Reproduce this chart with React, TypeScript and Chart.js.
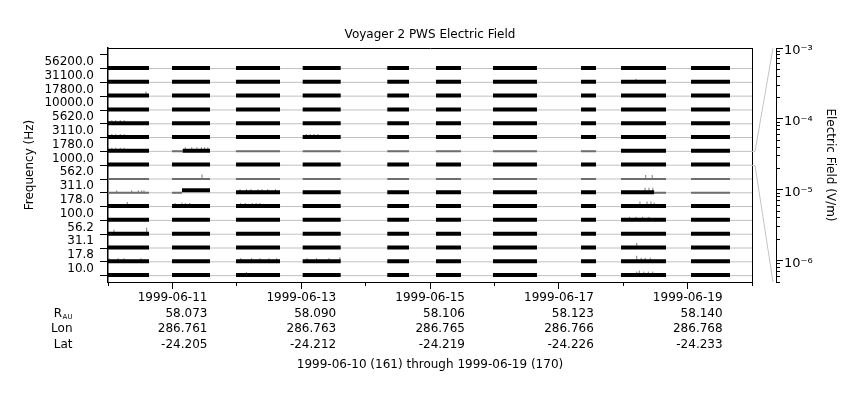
import React, { useEffect, useRef } from 'react';
import { Chart, registerables } from 'chart.js';
Chart.register(...registerables);

// ---------------- data ----------------
const chartTitle = 'Voyager 2 PWS Electric Field';
const freqLabels = ['10.0', '17.8', '31.1', '56.2', '100.0', '178.0', '311.0', '562.0', '1000.0', '1780.0', '3110.0', '5620.0', '10000.0', '17800.0', '31100.0', '56200.0'];
const refChannel = 8; // 1000 Hz channel linked to the colour-bar axis

// data coverage intervals, days since 1999-06-10 00:00
const segStart = [0.0, 0.994, 1.988, 3.023, 4.337, 5.093, 5.978, 7.345, 7.966, 9.053];
const segEnd = [0.637, 1.584, 2.671, 3.613, 4.674, 5.481, 6.661, 7.578, 8.665, 9.658];

// activity state per channel (row 0 = 10 Hz) and interval: 0 quiet, 1 noise, 2 enhanced
const channelState: number[][] = [
  [1, 1, 1, 1, 1, 1, 1, 1, 1, 1],
  [1, 1, 1, 1, 1, 1, 1, 1, 1, 1],
  [1, 1, 1, 1, 1, 1, 1, 1, 1, 1],
  [1, 1, 1, 1, 1, 1, 1, 1, 1, 1],
  [1, 1, 1, 1, 1, 1, 1, 1, 1, 1],
  [1, 1, 1, 1, 1, 1, 1, 1, 1, 1],
  [0, 0, 1, 1, 1, 1, 1, 1, 1, 0],
  [0, 0, 0, 0, 0, 0, 0, 0, 0, 0],
  [1, 1, 1, 1, 1, 1, 1, 1, 1, 1],
  [1, 0, 0, 0, 0, 0, 0, 0, 1, 1],
  [1, 1, 1, 1, 1, 1, 1, 1, 1, 1],
  [1, 1, 1, 1, 1, 1, 1, 1, 1, 1],
  [1, 1, 1, 1, 1, 1, 1, 1, 1, 1],
  [1, 1, 1, 1, 1, 1, 1, 1, 1, 1],
  [1, 1, 1, 1, 1, 1, 1, 1, 1, 1],
  [1, 1, 1, 1, 1, 1, 1, 1, 1, 1],
];
// partial-interval state changes: [channel, startDay, endDay, state]
const stateRuns: number[][] = [
  [6, 1.149, 1.584, 2],
  [6, 8.48, 8.665, 0],
  [9, 1.16, 1.584, 1],
];
// field level (V/m) of each state
const stateLevel = [5.5e-7, 7.5e-7, 2.2e-6];
const referenceLevel = 5.5e-7;

// impulsive events: [channel, day, amplitude V/m]
const spikes: number[][] = [
  [13, 0.59, 6.7e-6], [14, 8.2, 3.9e-6],
  [11, 0.06, 3.9e-6], [11, 0.12, 3.9e-6], [11, 0.19, 3.9e-6], [11, 0.25, 3.9e-6],
  [10, 0.06, 3.9e-6], [10, 0.12, 3.9e-6], [10, 0.19, 3.9e-6], [10, 0.25, 3.9e-6],
  [10, 3.08, 3.9e-6], [10, 3.14, 3.9e-6], [10, 3.2, 3.9e-6], [10, 3.26, 3.9e-6],
  [9, 0.06, 3.9e-6], [9, 0.12, 3.9e-6], [9, 0.19, 3.9e-6], [9, 0.25, 3.9e-6],
  [9, 1.2, 5.0e-6], [9, 1.3, 5.0e-6], [9, 1.38, 5.0e-6], [9, 1.45, 5.0e-6], [9, 1.5, 5.0e-6], [9, 1.55, 5.0e-6],
  [7, 1.46, 6.7e-6], [7, 8.35, 5.0e-6], [7, 8.45, 5.0e-6],
  [6, 0.135, 2.0e-6], [6, 0.368, 2.0e-6], [6, 0.47, 2.0e-6], [6, 0.523, 2.0e-6], [6, 0.559, 2.0e-6],
  [6, 2.05, 3.9e-6], [6, 2.15, 3.9e-6], [6, 2.22, 3.9e-6], [6, 2.33, 3.9e-6], [6, 2.39, 3.9e-6], [6, 2.48, 3.9e-6], [6, 2.6, 3.9e-6],
  [6, 8.34, 9.0e-6], [6, 8.4, 9.0e-6], [6, 8.46, 9.0e-6],
  [5, 0.3, 6.7e-6], [5, 1.04, 3.9e-6], [5, 1.15, 5.0e-6], [5, 1.2, 3.9e-6], [5, 1.27, 3.9e-6],
  [5, 2.06, 3.9e-6], [5, 2.13, 3.9e-6], [5, 2.24, 3.9e-6], [5, 2.3, 3.9e-6], [5, 2.36, 3.9e-6],
  [5, 8.26, 9.0e-6], [5, 8.37, 9.0e-6], [5, 8.43, 9.0e-6], [5, 8.48, 5.0e-6],
  [4, 8.1, 3.9e-6], [4, 8.2, 3.9e-6], [4, 8.3, 3.9e-6], [4, 8.4, 3.9e-6],
  [3, 0.093, 6.7e-6], [3, 0.601, 2.0e-5],
  [2, 8.21, 9.0e-6],
  [1, 0.016, 3.9e-6], [1, 0.155, 3.9e-6], [1, 0.248, 3.9e-6], [1, 0.512, 3.9e-6],
  [1, 2.06, 3.9e-6], [1, 2.23, 3.9e-6], [1, 2.36, 3.9e-6], [1, 2.5, 3.9e-6], [1, 2.62, 3.9e-6],
  [1, 3.09, 3.9e-6], [1, 3.24, 3.9e-6], [1, 3.43, 3.9e-6], [1, 3.6, 6.7e-6],
  [1, 8.21, 1.5e-5], [1, 8.28, 5.0e-6], [1, 8.34, 5.0e-6], [1, 8.42, 5.0e-6],
  [0, 2.15, 3.9e-6], [0, 8.21, 5.0e-6], [0, 8.25, 9.0e-6], [0, 8.32, 5.0e-6], [0, 8.39, 5.0e-6], [0, 8.46, 5.0e-6],
];

// colour-bar range (V/m)
const fieldMin = 5e-7;
const fieldMax = 1e-3;
const fieldDecades = [1e-6, 1e-5, 1e-4, 1e-3];

// x axis: day range, labelled days and ephemeris rows
const dayMin = 0;
const dayMax = 10;
const labelDays = [1, 3, 5, 7, 9];
const dateLabels = ['1999-06-11', '1999-06-13', '1999-06-15', '1999-06-17', '1999-06-19'];
const rAU = ['58.073', '58.090', '58.106', '58.123', '58.140'];
const lonVals = ['286.761', '286.763', '286.765', '286.766', '286.768'];
const latVals = ['-24.205', '-24.212', '-24.219', '-24.226', '-24.233'];
const footerText = '1999-06-10 (161) through 1999-06-19 (170)';
const yTitle = 'Frequency (Hz)';
const eTitle = 'Electric Field (V/m)';

// ---------------- helpers ----------------
const LABEL_POS = 0.5;
const bandY = (ch: number, v: number) => ch + Math.log10(v / fieldMin) / Math.log10(fieldMax / fieldMin);
const SUP: Record<string, string> = { '-': '\u207B', '0': '\u2070', '1': '\u00B9', '2': '\u00B2', '3': '\u00B3', '4': '\u2074', '5': '\u2075', '6': '\u2076', '7': '\u2077', '8': '\u2078', '9': '\u2079' };
const sup = (s: string) => s.split('').map((c) => SUP[c] || c).join('');

function buildRuns() {
  const runs: { ch: number; s: number; e: number; st: number }[] = [];
  for (let ch = 0; ch < freqLabels.length; ch++) {
    for (let k = 0; k < segStart.length; k++) {
      let pieces = [{ s: segStart[k], e: segEnd[k], st: channelState[ch][k] }];
      stateRuns.filter((r) => r[0] === ch).forEach((r) => {
        const next: typeof pieces = [];
        pieces.forEach((p) => {
          const a = Math.max(p.s, r[1]);
          const b = Math.min(p.e, r[2]);
          if (b <= a) { next.push(p); return; }
          if (a > p.s) next.push({ s: p.s, e: a, st: p.st });
          next.push({ s: a, e: b, st: r[3] });
          if (p.e > b) next.push({ s: b, e: p.e, st: p.st });
        });
        pieces = next;
      });
      pieces.forEach((p) => runs.push({ ch, ...p }));
    }
  }
  return runs;
}

function runData(st: number) {
  const out: any[] = [];
  buildRuns().filter((r) => r.st === st).forEach((r) => {
    const y = bandY(r.ch, stateLevel[st]);
    out.push({ x: r.s, y }, { x: r.e, y }, { x: r.e, y: null });
  });
  return out;
}

function baselineData() {
  const out: any[] = [];
  for (let ch = 0; ch < freqLabels.length; ch++) {
    const y = bandY(ch, referenceLevel);
    out.push({ x: dayMin, y }, { x: dayMax, y }, { x: dayMax, y: null });
  }
  return out;
}

function spikeData() {
  const out: any[] = [];
  spikes.forEach(([ch, d, a]) => {
    out.push({ x: d, y: bandY(ch, referenceLevel) }, { x: d, y: bandY(ch, a) }, { x: d, y: null });
  });
  return out;
}

const lineBase = {
  type: 'line' as const,
  xAxisID: 'x',
  yAxisID: 'y',
  pointRadius: 0,
  pointHoverRadius: 0,
  spanGaps: false,
  tension: 0,
  fill: false,
  borderCapStyle: 'butt' as const,
};

const extrasPlugin = {
  id: 'extras',
  afterDraw(chart: any) {
    const { ctx, chartArea } = chart;
    const y = chart.scales.y;
    const yE = chart.scales.yE;
    const x = chart.scales.x;
    ctx.save();
    // connector from the reference channel band to the colour-bar axis
    ctx.strokeStyle = '#c4c4c4';
    ctx.lineWidth = 1;
    const topY = y.getPixelForValue(refChannel + 1);
    const botY = y.getPixelForValue(refChannel);
    ctx.beginPath();
    ctx.moveTo(chartArea.right, topY);
    ctx.lineTo(chartArea.right + 3, topY);
    ctx.lineTo(yE.left - 3, yE.getPixelForValue(fieldMax));
    ctx.moveTo(chartArea.right, botY);
    ctx.lineTo(chartArea.right + 3, botY);
    ctx.lineTo(yE.left - 3, yE.getPixelForValue(fieldMin));
    ctx.stroke();
    // ephemeris row names
    const lh = 12 * 1.3;
    const y0 = x.top + 7 + 1 + lh / 2;
    const rx = 72.5;
    ctx.fillStyle = '#000';
    ctx.textBaseline = 'middle';
    ctx.textAlign = 'right';
    ctx.font = "12px 'DejaVu Sans'";
    ctx.fillText('Lon', rx, y0 + 2 * lh);
    ctx.fillText('Lat', rx, y0 + 3 * lh);
    ctx.font = "7px 'DejaVu Sans'";
    const wAU = ctx.measureText('AU').width;
    ctx.fillText('AU', rx, y0 + lh + 4);
    ctx.font = "12px 'DejaVu Sans'";
    ctx.fillText('R', rx - wAU - 0.5, y0 + lh);
    ctx.restore();
  },
};

export default function App() {
  const ref = useRef<HTMLCanvasElement>(null);
  useEffect(() => {
    Chart.defaults.font.family = "'DejaVu Sans'";
    Chart.defaults.font.size = 12;
    Chart.defaults.color = '#000';

    const minorTicks: { value: number }[] = [];
    for (let e = -7; e <= -3; e++) {
      for (let m = 1; m <= 9; m++) {
        const v = parseFloat((m * Math.pow(10, e)).toPrecision(3));
        if (v >= fieldMin * 0.999 && v <= fieldMax * 1.001) minorTicks.push({ value: v });
      }
    }

    const chart = new Chart(ref.current!, {
      type: 'line',
      data: {
        datasets: [
          { ...lineBase, label: 'baseline', data: baselineData(), borderColor: '#c0c0c0', borderWidth: 1, order: 5 },
          { ...lineBase, label: 'events', data: spikeData(), borderColor: '#7a7a7a', borderWidth: 1, order: 4 },
          { ...lineBase, label: 'quiet', data: runData(0), borderColor: '#6e6e6e', borderWidth: 2, order: 3 },
          { ...lineBase, label: 'noise', data: runData(1), borderColor: '#000', borderWidth: 4, order: 2 },
          { ...lineBase, label: 'enhanced', data: runData(2), borderColor: '#000', borderWidth: 4, order: 1 },
        ] as any,
      },
      options: {
        responsive: false,
        animation: false,
        events: [],
        layout: { padding: 0 },
        plugins: {
          legend: { display: false },
          tooltip: { enabled: false },
          title: {
            display: true,
            text: chartTitle,
            color: '#000',
            font: { size: 12, weight: 'normal' },
            padding: { top: 27.5, bottom: 6.1 },
          },
        },
        scales: {
          x: {
            type: 'linear',
            position: 'bottom',
            weight: 1,
            min: dayMin,
            max: dayMax,
            afterBuildTicks: (s: any) => { s.ticks = labelDays.map((v) => ({ value: v })); },
            afterFit: (s: any) => { s.height = 118; },
            grid: { drawOnChartArea: false, drawTicks: true, tickLength: 7, tickColor: '#000', tickWidth: 1 },
            border: { display: true, color: '#000', width: 1 },
            ticks: {
              autoSkip: false,
              maxRotation: 0,
              minRotation: 0,
              align: 'end',
              labelOffset: 35,
              padding: 1,
              color: '#000',
              font: { size: 12, lineHeight: 1.3 },
              callback: (_v: any, i: number) => [dateLabels[i], rAU[i], lonVals[i], latVals[i]],
            },
            title: { display: true, text: footerText, color: '#000', font: { size: 12 }, padding: { top: 0, bottom: 28 } },
          },
          xMinor: {
            type: 'linear',
            position: 'bottom',
            weight: 0,
            min: dayMin,
            max: dayMax,
            afterBuildTicks: (s: any) => {
              const t = [];
              for (let d = dayMin; d <= dayMax; d++) t.push({ value: d });
              s.ticks = t;
            },
            afterFit: (s: any) => { s.height = 0; },
            grid: { drawOnChartArea: false, drawTicks: true, tickLength: 4, tickColor: '#000', tickWidth: 1 },
            border: { display: false },
            ticks: { display: false },
          },
          xTop: {
            type: 'linear',
            position: 'top',
            min: dayMin,
            max: dayMax,
            afterFit: (s: any) => { s.height = 0; },
            grid: { drawOnChartArea: false, drawTicks: false },
            border: { display: true, color: '#000', width: 1 },
            ticks: { display: false },
          },
          y: {
            type: 'linear',
            position: 'left',
            min: -0.45,
            max: 16.5,
            afterBuildTicks: (s: any) => {
              const t: { value: number }[] = [];
              for (let i = 0; i <= freqLabels.length; i++) t.push({ value: i });
              for (let i = 0; i < freqLabels.length; i++) t.push({ value: i + LABEL_POS });
              s.ticks = t.sort((a, b) => a.value - b.value);
            },
            afterFit: (s: any) => { s.width = 108; },
            grid: {
              drawOnChartArea: false,
              drawTicks: true,
              tickLength: 8,
              tickColor: (c: any) => (c.tick && Number.isInteger(c.tick.value) ? '#000' : 'rgba(0,0,0,0)'),
            },
            border: { display: true, color: '#000', width: 1.5 },
            ticks: {
              autoSkip: false,
              padding: 6,
              color: '#000',
              font: { size: 12 },
              callback: (v: any) => (Number.isInteger(v) ? '' : freqLabels[Math.round(v - LABEL_POS)]),
            },
            title: { display: true, text: yTitle, color: '#000', font: { size: 12 }, padding: { top: 22.8, bottom: 0 } },
          },
          yFrame: {
            type: 'linear',
            position: 'right',
            weight: 0,
            min: 0,
            max: 1,
            afterFit: (s: any) => { s.width = 24; },
            grid: { drawOnChartArea: false, drawTicks: false },
            border: { display: true, color: '#000', width: 1 },
            ticks: { display: false },
          },
          yEminor: {
            type: 'logarithmic',
            position: 'right',
            weight: 1,
            min: fieldMin,
            max: fieldMax,
            afterBuildTicks: (s: any) => { s.ticks = minorTicks.map((t) => ({ ...t })); },
            afterFit: (s: any) => { s.width = 0; },
            grid: { drawOnChartArea: false, drawTicks: true, tickLength: 4, tickColor: '#000' },
            border: { display: true, color: '#000', width: 1 },
            ticks: { display: false },
          },
          yE: {
            type: 'logarithmic',
            position: 'right',
            weight: 2,
            min: fieldMin,
            max: fieldMax,
            afterBuildTicks: (s: any) => { s.ticks = fieldDecades.map((v) => ({ value: v })); },
            afterFit: (s: any) => { s.width = 84; },
            grid: { drawOnChartArea: false, drawTicks: true, tickLength: 7, tickColor: '#000' },
            border: { display: false },
            ticks: {
              autoSkip: false,
              padding: 1,
              labelOffset: 3,
              color: '#000',
              font: { size: 13 },
              callback: (v: any) => '10' + sup(String(Math.round(Math.log10(v)))),
            },
            title: { display: true, text: eTitle, color: '#000', font: { size: 12 }, padding: { top: 22.8, bottom: 0 } },
          },
        } as any,
      },
      plugins: [extrasPlugin],
    } as any);
    return () => chart.destroy();
  }, []);

  return (
    <div style={{ position: 'absolute', left: 0, top: 0, width: 860, height: 400 }}>
      <canvas ref={ref} width={860} height={400} style={{ display: 'block' }} />
    </div>
  );
}
